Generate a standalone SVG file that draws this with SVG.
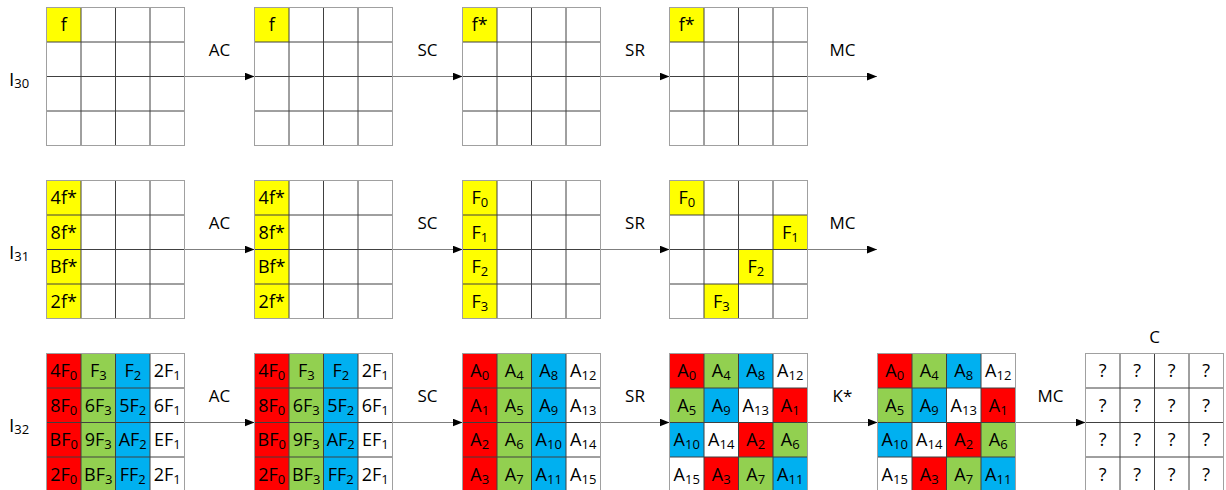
<svg xmlns="http://www.w3.org/2000/svg" xmlns:xlink="http://www.w3.org/1999/xlink" width="1226" height="490" viewBox="0 0 1226 490">
<style>
text{font-family:'Open Sans','Liberation Sans',sans-serif;fill:#000}
.c{font-size:18px;text-anchor:middle}
.s{font-size:13px}
.lb{font-size:17px;text-anchor:middle}
.rl{font-size:19px}
.y{fill:#ffff00}.r{fill:#ff0000}.g{fill:#92d050}.b{fill:#00b0f0}
.conn line{stroke:#7f7f7f;stroke-width:1;marker-end:url(#ah)}
</style>
<defs>
<marker id="ah" markerUnits="userSpaceOnUse" markerWidth="11" markerHeight="9" refX="10" refY="4" orient="auto"><path d="M0,0L10,4L0,8z" fill="#000"/></marker>
<g id="grid"><path d="M34.5,0V138M69,0V138M103.5,0V138M0,34.5H138M0,69H138M0,103.5H138" stroke="#404040" fill="none"/><rect width="138" height="138" fill="none" stroke="#a0a0a0"/></g>
</defs>
<rect width="1226" height="490" fill="#fff"/>

<g id="rowlabels">
<text class="rl" x="9" y="86">I<tspan class="s" dy="2">30</tspan></text>
<text class="rl" x="9" y="259">I<tspan class="s" dy="2">31</tspan></text>
<text class="rl" x="9" y="432">I<tspan class="s" dy="2">32</tspan></text>
</g>

<g class="conn" id="connectors">
<line x1="184.5" y1="76.5" x2="254.5" y2="76.5"/>
<line x1="392.5" y1="76.5" x2="462.5" y2="76.5"/>
<line x1="600.5" y1="76.5" x2="669.5" y2="76.5"/>
<line x1="807.5" y1="76.5" x2="877" y2="76.5"/>
<line x1="184.5" y1="249.5" x2="254.5" y2="249.5"/>
<line x1="392.5" y1="249.5" x2="462.5" y2="249.5"/>
<line x1="600.5" y1="249.5" x2="669.5" y2="249.5"/>
<line x1="807.5" y1="249.5" x2="877" y2="249.5"/>
<line x1="184.5" y1="422.5" x2="254.5" y2="422.5"/>
<line x1="392.5" y1="422.5" x2="462.5" y2="422.5"/>
<line x1="600.5" y1="422.5" x2="669.5" y2="422.5"/>
<line x1="807.5" y1="422.5" x2="877.5" y2="422.5"/>
<line x1="1015.5" y1="422.5" x2="1085.5" y2="422.5"/>
</g>

<g id="oplabels">
<text class="lb" x="219.5" y="56">AC</text>
<text class="lb" x="427.5" y="56">SC</text>
<text class="lb" x="635" y="56">SR</text>
<text class="lb" x="842.5" y="56">MC</text>
<text class="lb" x="219.5" y="229">AC</text>
<text class="lb" x="427.5" y="229">SC</text>
<text class="lb" x="635" y="229">SR</text>
<text class="lb" x="842.5" y="229">MC</text>
<text class="lb" x="219.5" y="402">AC</text>
<text class="lb" x="427.5" y="402">SC</text>
<text class="lb" x="635" y="402">SR</text>
<text class="lb" x="842.5" y="402">K*</text>
<text class="lb" x="1050.5" y="402">MC</text>
<text class="lb" x="1154.5" y="343">C</text>
</g>

<!-- Row 1 -->
<g id="r1g1" transform="translate(46.5,7.5)">
<rect class="y" width="34.5" height="34.5"/><use href="#grid"/>
<text class="c" x="17.25" y="23.75">f</text>
</g>
<g id="r1g2" transform="translate(254.5,7.5)">
<rect class="y" width="34.5" height="34.5"/><use href="#grid"/>
<text class="c" x="17.25" y="23.75">f</text>
</g>
<g id="r1g3" transform="translate(462.5,7.5)">
<rect class="y" width="34.5" height="34.5"/><use href="#grid"/>
<text class="c" x="17.25" y="23.75">f*</text>
</g>
<g id="r1g4" transform="translate(669.5,7.5)">
<rect class="y" width="34.5" height="34.5"/><use href="#grid"/>
<text class="c" x="17.25" y="23.75">f*</text>
</g>

<!-- Row 2 -->
<g id="r2g1" transform="translate(46.5,180.5)">
<rect class="y" width="34.5" height="138"/><use href="#grid"/>
<text class="c" x="17.25" y="23.75">4f*</text>
<text class="c" x="17.25" y="58.25">8f*</text>
<text class="c" x="17.25" y="92.75">Bf*</text>
<text class="c" x="17.25" y="127.25">2f*</text>
</g>
<g id="r2g2" transform="translate(254.5,180.5)">
<rect class="y" width="34.5" height="138"/><use href="#grid"/>
<text class="c" x="17.25" y="23.75">4f*</text>
<text class="c" x="17.25" y="58.25">8f*</text>
<text class="c" x="17.25" y="92.75">Bf*</text>
<text class="c" x="17.25" y="127.25">2f*</text>
</g>
<g id="r2g3" transform="translate(462.5,180.5)">
<rect class="y" width="34.5" height="138"/><use href="#grid"/>
<text class="c" x="17.25" y="23.75">F<tspan class="s" dy="3">0</tspan></text>
<text class="c" x="17.25" y="58.25">F<tspan class="s" dy="3">1</tspan></text>
<text class="c" x="17.25" y="92.75">F<tspan class="s" dy="3">2</tspan></text>
<text class="c" x="17.25" y="127.25">F<tspan class="s" dy="3">3</tspan></text>
</g>
<g id="r2g4" transform="translate(669.5,180.5)">
<rect class="y" x="0" y="0" width="34.5" height="34.5"/>
<rect class="y" x="103.5" y="34.5" width="34.5" height="34.5"/>
<rect class="y" x="69" y="69" width="34.5" height="34.5"/>
<rect class="y" x="34.5" y="103.5" width="34.5" height="34.5"/>
<use href="#grid"/>
<text class="c" x="17.25" y="23.75">F<tspan class="s" dy="3">0</tspan></text>
<text class="c" x="120.75" y="58.25">F<tspan class="s" dy="3">1</tspan></text>
<text class="c" x="86.25" y="92.75">F<tspan class="s" dy="3">2</tspan></text>
<text class="c" x="51.75" y="127.25">F<tspan class="s" dy="3">3</tspan></text>
</g>

<!-- Row 3 -->
<g id="r3g1" transform="translate(46.5,353.5)">
<rect class="r" x="0" width="34.5" height="138"/><rect class="g" x="34.5" width="34.5" height="138"/><rect class="b" x="69" width="34.5" height="138"/>
<use href="#grid"/>
<text class="c" x="17.25" y="23.75">4F<tspan class="s" dy="3">0</tspan></text>
<text class="c" x="51.75" y="23.75">F<tspan class="s" dy="3">3</tspan></text>
<text class="c" x="86.25" y="23.75">F<tspan class="s" dy="3">2</tspan></text>
<text class="c" x="120.75" y="23.75">2F<tspan class="s" dy="3">1</tspan></text>
<text class="c" x="17.25" y="58.25">8F<tspan class="s" dy="3">0</tspan></text>
<text class="c" x="51.75" y="58.25">6F<tspan class="s" dy="3">3</tspan></text>
<text class="c" x="86.25" y="58.25">5F<tspan class="s" dy="3">2</tspan></text>
<text class="c" x="120.75" y="58.25">6F<tspan class="s" dy="3">1</tspan></text>
<text class="c" x="17.25" y="92.75">BF<tspan class="s" dy="3">0</tspan></text>
<text class="c" x="51.75" y="92.75">9F<tspan class="s" dy="3">3</tspan></text>
<text class="c" x="86.25" y="92.75">AF<tspan class="s" dy="3">2</tspan></text>
<text class="c" x="120.75" y="92.75">EF<tspan class="s" dy="3">1</tspan></text>
<text class="c" x="17.25" y="127.25">2F<tspan class="s" dy="3">0</tspan></text>
<text class="c" x="51.75" y="127.25">BF<tspan class="s" dy="3">3</tspan></text>
<text class="c" x="86.25" y="127.25">FF<tspan class="s" dy="3">2</tspan></text>
<text class="c" x="120.75" y="127.25">2F<tspan class="s" dy="3">1</tspan></text>
</g>
<g id="r3g2" transform="translate(254.5,353.5)">
<rect class="r" x="0" width="34.5" height="138"/><rect class="g" x="34.5" width="34.5" height="138"/><rect class="b" x="69" width="34.5" height="138"/>
<use href="#grid"/>
<text class="c" x="17.25" y="23.75">4F<tspan class="s" dy="3">0</tspan></text>
<text class="c" x="51.75" y="23.75">F<tspan class="s" dy="3">3</tspan></text>
<text class="c" x="86.25" y="23.75">F<tspan class="s" dy="3">2</tspan></text>
<text class="c" x="120.75" y="23.75">2F<tspan class="s" dy="3">1</tspan></text>
<text class="c" x="17.25" y="58.25">8F<tspan class="s" dy="3">0</tspan></text>
<text class="c" x="51.75" y="58.25">6F<tspan class="s" dy="3">3</tspan></text>
<text class="c" x="86.25" y="58.25">5F<tspan class="s" dy="3">2</tspan></text>
<text class="c" x="120.75" y="58.25">6F<tspan class="s" dy="3">1</tspan></text>
<text class="c" x="17.25" y="92.75">BF<tspan class="s" dy="3">0</tspan></text>
<text class="c" x="51.75" y="92.75">9F<tspan class="s" dy="3">3</tspan></text>
<text class="c" x="86.25" y="92.75">AF<tspan class="s" dy="3">2</tspan></text>
<text class="c" x="120.75" y="92.75">EF<tspan class="s" dy="3">1</tspan></text>
<text class="c" x="17.25" y="127.25">2F<tspan class="s" dy="3">0</tspan></text>
<text class="c" x="51.75" y="127.25">BF<tspan class="s" dy="3">3</tspan></text>
<text class="c" x="86.25" y="127.25">FF<tspan class="s" dy="3">2</tspan></text>
<text class="c" x="120.75" y="127.25">2F<tspan class="s" dy="3">1</tspan></text>
</g>
<g id="r3g3" transform="translate(462.5,353.5)">
<rect class="r" x="0" width="34.5" height="138"/><rect class="g" x="34.5" width="34.5" height="138"/><rect class="b" x="69" width="34.5" height="138"/>
<use href="#grid"/>
<text class="c" x="17.25" y="23.75">A<tspan class="s" dy="3">0</tspan></text>
<text class="c" x="51.75" y="23.75">A<tspan class="s" dy="3">4</tspan></text>
<text class="c" x="86.25" y="23.75">A<tspan class="s" dy="3">8</tspan></text>
<text class="c" x="120.75" y="23.75">A<tspan class="s" dy="3">12</tspan></text>
<text class="c" x="17.25" y="58.25">A<tspan class="s" dy="3">1</tspan></text>
<text class="c" x="51.75" y="58.25">A<tspan class="s" dy="3">5</tspan></text>
<text class="c" x="86.25" y="58.25">A<tspan class="s" dy="3">9</tspan></text>
<text class="c" x="120.75" y="58.25">A<tspan class="s" dy="3">13</tspan></text>
<text class="c" x="17.25" y="92.75">A<tspan class="s" dy="3">2</tspan></text>
<text class="c" x="51.75" y="92.75">A<tspan class="s" dy="3">6</tspan></text>
<text class="c" x="86.25" y="92.75">A<tspan class="s" dy="3">10</tspan></text>
<text class="c" x="120.75" y="92.75">A<tspan class="s" dy="3">14</tspan></text>
<text class="c" x="17.25" y="127.25">A<tspan class="s" dy="3">3</tspan></text>
<text class="c" x="51.75" y="127.25">A<tspan class="s" dy="3">7</tspan></text>
<text class="c" x="86.25" y="127.25">A<tspan class="s" dy="3">11</tspan></text>
<text class="c" x="120.75" y="127.25">A<tspan class="s" dy="3">15</tspan></text>
</g>
<g id="r3g4" transform="translate(669.5,353.5)">
<rect class="r" x="0" y="0" width="34.5" height="34.5"/><rect class="g" x="34.5" y="0" width="34.5" height="34.5"/><rect class="b" x="69" y="0" width="34.5" height="34.5"/>
<rect class="g" x="0" y="34.5" width="34.5" height="34.5"/><rect class="b" x="34.5" y="34.5" width="34.5" height="34.5"/><rect class="r" x="103.5" y="34.5" width="34.5" height="34.5"/>
<rect class="b" x="0" y="69" width="34.5" height="34.5"/><rect class="r" x="69" y="69" width="34.5" height="34.5"/><rect class="g" x="103.5" y="69" width="34.5" height="34.5"/>
<rect class="r" x="34.5" y="103.5" width="34.5" height="34.5"/><rect class="g" x="69" y="103.5" width="34.5" height="34.5"/><rect class="b" x="103.5" y="103.5" width="34.5" height="34.5"/>
<use href="#grid"/>
<text class="c" x="17.25" y="23.75">A<tspan class="s" dy="3">0</tspan></text>
<text class="c" x="51.75" y="23.75">A<tspan class="s" dy="3">4</tspan></text>
<text class="c" x="86.25" y="23.75">A<tspan class="s" dy="3">8</tspan></text>
<text class="c" x="120.75" y="23.75">A<tspan class="s" dy="3">12</tspan></text>
<text class="c" x="17.25" y="58.25">A<tspan class="s" dy="3">5</tspan></text>
<text class="c" x="51.75" y="58.25">A<tspan class="s" dy="3">9</tspan></text>
<text class="c" x="86.25" y="58.25">A<tspan class="s" dy="3">13</tspan></text>
<text class="c" x="120.75" y="58.25">A<tspan class="s" dy="3">1</tspan></text>
<text class="c" x="17.25" y="92.75">A<tspan class="s" dy="3">10</tspan></text>
<text class="c" x="51.75" y="92.75">A<tspan class="s" dy="3">14</tspan></text>
<text class="c" x="86.25" y="92.75">A<tspan class="s" dy="3">2</tspan></text>
<text class="c" x="120.75" y="92.75">A<tspan class="s" dy="3">6</tspan></text>
<text class="c" x="17.25" y="127.25">A<tspan class="s" dy="3">15</tspan></text>
<text class="c" x="51.75" y="127.25">A<tspan class="s" dy="3">3</tspan></text>
<text class="c" x="86.25" y="127.25">A<tspan class="s" dy="3">7</tspan></text>
<text class="c" x="120.75" y="127.25">A<tspan class="s" dy="3">11</tspan></text>
</g>
<g id="r3g5" transform="translate(877.5,353.5)">
<rect class="r" x="0" y="0" width="34.5" height="34.5"/><rect class="g" x="34.5" y="0" width="34.5" height="34.5"/><rect class="b" x="69" y="0" width="34.5" height="34.5"/>
<rect class="g" x="0" y="34.5" width="34.5" height="34.5"/><rect class="b" x="34.5" y="34.5" width="34.5" height="34.5"/><rect class="r" x="103.5" y="34.5" width="34.5" height="34.5"/>
<rect class="b" x="0" y="69" width="34.5" height="34.5"/><rect class="r" x="69" y="69" width="34.5" height="34.5"/><rect class="g" x="103.5" y="69" width="34.5" height="34.5"/>
<rect class="r" x="34.5" y="103.5" width="34.5" height="34.5"/><rect class="g" x="69" y="103.5" width="34.5" height="34.5"/><rect class="b" x="103.5" y="103.5" width="34.5" height="34.5"/>
<use href="#grid"/>
<text class="c" x="17.25" y="23.75">A<tspan class="s" dy="3">0</tspan></text>
<text class="c" x="51.75" y="23.75">A<tspan class="s" dy="3">4</tspan></text>
<text class="c" x="86.25" y="23.75">A<tspan class="s" dy="3">8</tspan></text>
<text class="c" x="120.75" y="23.75">A<tspan class="s" dy="3">12</tspan></text>
<text class="c" x="17.25" y="58.25">A<tspan class="s" dy="3">5</tspan></text>
<text class="c" x="51.75" y="58.25">A<tspan class="s" dy="3">9</tspan></text>
<text class="c" x="86.25" y="58.25">A<tspan class="s" dy="3">13</tspan></text>
<text class="c" x="120.75" y="58.25">A<tspan class="s" dy="3">1</tspan></text>
<text class="c" x="17.25" y="92.75">A<tspan class="s" dy="3">10</tspan></text>
<text class="c" x="51.75" y="92.75">A<tspan class="s" dy="3">14</tspan></text>
<text class="c" x="86.25" y="92.75">A<tspan class="s" dy="3">2</tspan></text>
<text class="c" x="120.75" y="92.75">A<tspan class="s" dy="3">6</tspan></text>
<text class="c" x="17.25" y="127.25">A<tspan class="s" dy="3">15</tspan></text>
<text class="c" x="51.75" y="127.25">A<tspan class="s" dy="3">3</tspan></text>
<text class="c" x="86.25" y="127.25">A<tspan class="s" dy="3">7</tspan></text>
<text class="c" x="120.75" y="127.25">A<tspan class="s" dy="3">11</tspan></text>
</g>
<g id="r3g6" transform="translate(1085.5,353.5)">
<use href="#grid"/>
<text class="c" x="17.25" y="23.75">?</text><text class="c" x="51.75" y="23.75">?</text><text class="c" x="86.25" y="23.75">?</text><text class="c" x="120.75" y="23.75">?</text>
<text class="c" x="17.25" y="58.25">?</text><text class="c" x="51.75" y="58.25">?</text><text class="c" x="86.25" y="58.25">?</text><text class="c" x="120.75" y="58.25">?</text>
<text class="c" x="17.25" y="92.75">?</text><text class="c" x="51.75" y="92.75">?</text><text class="c" x="86.25" y="92.75">?</text><text class="c" x="120.75" y="92.75">?</text>
<text class="c" x="17.25" y="127.25">?</text><text class="c" x="51.75" y="127.25">?</text><text class="c" x="86.25" y="127.25">?</text><text class="c" x="120.75" y="127.25">?</text>
</g>
</svg>
